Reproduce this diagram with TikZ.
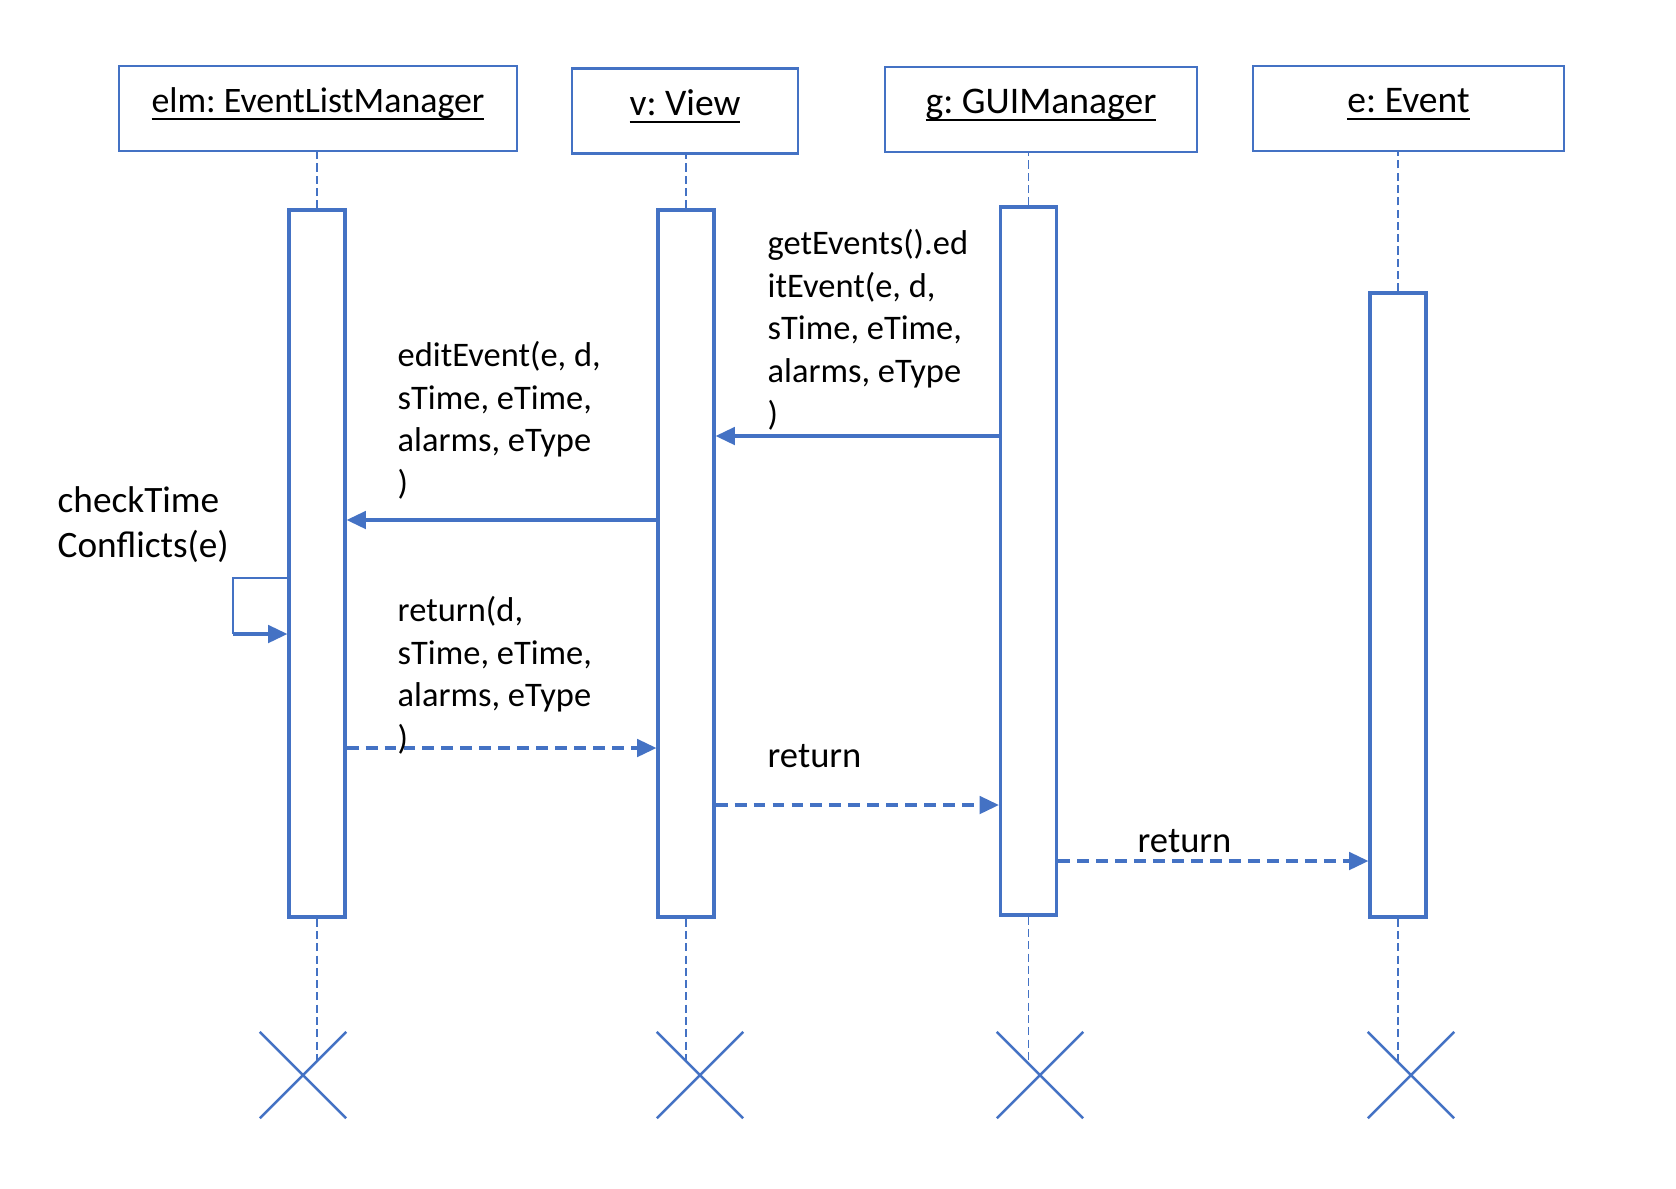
\documentclass[tikz,border=0pt]{standalone}
\usepackage{fontspec}
\setmainfont{Carlito}
\usetikzlibrary{arrows.meta,shapes.misc}
\definecolor{umlblue}{HTML}{4472C4}
\newcommand\uname[1]{\setbox0\hbox{#1}\rlap{\rule[-2.2pt]{\wd0}{0.6pt}}\box0}
\frenchspacing

\begin{document}
\begin{tikzpicture}[x=1cm,y=-1cm,
  objbox/.style={draw=umlblue,line width=0.7pt,minimum height=0.85cm,inner sep=0,
    font=\fontsize{10.7}{12.8}\selectfont,text height=8pt,text depth=5.7pt},
  actbox/.style={draw=umlblue,line width=0.9pt,minimum width=0.56cm,inner sep=0},
  lifeline/.style={draw=umlblue,line width=0.5pt,dash pattern=on 2.3pt off 1.2pt},
  kill/.style={cross out,draw=umlblue,line width=0.7pt,minimum size=0.84cm,inner sep=0},
  call/.style={draw=umlblue,line width=0.9pt,-{Triangle[length=5.5pt,width=5pt]}},
  reply/.style={call,dash pattern=on 3.4pt off 2pt},
  msglabel/.style={align=left,inner sep=0,font=\fontsize{9.8}{12.1}\selectfont}]
\useasboundingbox (0,0) rectangle (16.76,11.88);

% objects
\node[objbox,minimum width=3.98cm,font=\fontsize{10.2}{12.2}\selectfont] (elm) at (3.18,1.085) {\uname{elm: EventListManager}};
\node[objbox,minimum width=2.26cm] (v) at (6.85,1.11) {\uname{v: View}};
\node[objbox,minimum width=3.12cm] (g) at (10.41,1.095) {\uname{g: GUIManager}};
\node[objbox,minimum width=3.11cm] (e) at (14.085,1.085) {\uname{e: Event}};

% activations
\node[actbox,minimum height=7.07cm] (elmact) at (3.17,5.635) {};
\node[actbox,minimum height=7.07cm] (vact) at (6.86,5.635) {};
\node[actbox,minimum height=7.08cm] (gact) at (10.285,5.61) {};
\node[actbox,minimum height=6.24cm] (eact) at (13.98,6.05) {};

% destruction
\node[kill] (elmx) at (3.03,10.75) {};
\node[kill] (vx) at (7.00,10.75) {};
\node[kill] (gx) at (10.40,10.75) {};
\node[kill] (ex) at (14.11,10.75) {};

% lifelines
\draw[lifeline] (elmact.north) -- (elmact.north |- elm.south);
\draw[lifeline] (vact.north) -- (vact.north |- v.south);
\draw[lifeline] (gact.north) -- (gact.north |- g.south);
\draw[lifeline] (eact.north) -- (eact.north |- e.south);
\draw[lifeline] (elmact.south) -- (elmact.south |- 0,10.62);
\draw[lifeline] (vact.south) -- (vact.south |- 0,10.61);
\draw[lifeline] (gact.south) -- (gact.south |- 0,10.63);
\draw[lifeline] (eact.south) -- (eact.south |- 0,10.62);

% messages
\draw[call] (gact.west |- 0,4.36) -- (vact.east |- 0,4.36);
\node[msglabel,anchor=north west] (editlblg) at (7.67,2.29) {getEvents().ed\\itEvent(e, d,\\sTime, eTime,\\alarms, eType\\)};
\draw[call] (vact.west |- 0,5.20) -- (elmact.east |- 0,5.20);
\node[msglabel,anchor=north west] (editlblv) at (3.97,3.41) {editEvent(e, d,\\sTime, eTime,\\alarms, eType\\)};

% self call
\coordinate (loop) at (2.33,6.34);
\draw[umlblue,line width=0.5pt] (elmact.west |- 0,5.78) -| (loop);
\draw[call] (loop) -- (elmact.west |- loop);
\node[msglabel,anchor=north west,font=\fontsize{10.6}{12.8}\selectfont] (checklbl) at (0.57,4.86) {checkTime\\Conflicts(e)};

% returns
\draw[reply] (elmact.east |- 0,7.48) -- (vact.west |- 0,7.48);
\node[msglabel,anchor=north west] (retlbld) at (3.97,5.96) {return(d,\\sTime, eTime,\\alarms, eType\\)};
\draw[reply] (vact.east |- 0,8.05) -- (gact.west |- 0,8.05);
\node[msglabel,anchor=base west,font=\fontsize{10.4}{12.5}\selectfont] (retlblv) at (7.67,7.67) {return};
\draw[reply] (gact.east |- 0,8.61) -- (eact.west |- 0,8.61);
\node[msglabel,anchor=base west,font=\fontsize{10.4}{12.5}\selectfont] (retlblg) at (11.37,8.52) {return};
\end{tikzpicture}
\end{document}
